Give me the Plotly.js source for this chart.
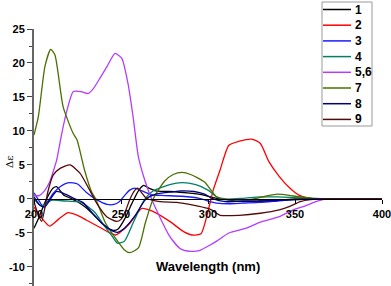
<!DOCTYPE html>
<html>
<head>
<meta charset="utf-8">
<script src="https://cdn.plot.ly/plotly-3.0.1.min.js"></script>
<style>html,body{margin:0;padding:0;background:#fff;}#chart{width:391px;height:286px;}</style>
</head>
<body>
<div id="chart"></div>
<script>
// Legend names and colours
const seriesNames = ["1", "2", "3", "4", "5,6", "7", "8", "9"];
const seriesColors = ["#000000", "#ff0000", "#1a1aff", "#008066", "#b43cff", "#4a7000", "#000080", "#550a0a"];

// Wavelength (nm) and Δε values
const wl1 = [200,203,207,211,213,217,221,225,230,235,240,245,248,252,256,260,263,266,270,278,288,297,303,310,320,330,340,350,360,370,400];
const de1 = [-4.3,-2.6,-0.1,1.6,1.8,0.6,0.1,-0.4,-1.3,-2.5,-3.8,-4.6,-4.5,-3.0,-0.8,1.2,2.0,1.6,1.2,1.1,0.9,0.6,0.2,-0.1,-0.4,-0.3,-0.2,0,0,0,0];

const wl2 = [200,205,209,214,219.5,225,230,238,243,247,250,255,262,268,278,286,291,296,300,303,307,312,318,325,330,335,341,347,352,358,365,400];
const de2 = [-1.2,-3.0,-4.0,-3.0,-2.0,-2.4,-3.1,-4.2,-4.9,-5.3,-4.8,-3.6,-1.4,-1.8,-3.3,-4.8,-5.3,-5.1,-1.8,1.3,4.3,7.9,8.5,8.8,8.2,5.5,3.3,1.6,0.6,0.1,0,0];

const wl3 = [200,203,205,208,211,215,220,225,230,236,242,246,249,252,255,258,262,268,275,285,295,300,305,312,320,330,340,350,360,370,400];
const de3 = [0.9,-0.3,-1.0,-0.3,0.8,1.8,2.4,2.2,1.0,-0.1,-0.8,-0.8,-0.4,0.5,1.3,1.6,1.2,0.6,0.5,0.4,0.1,-0.3,-0.6,-0.7,-0.6,-0.5,-0.3,-0.1,0,0,0];

const wl4 = [200,204,210,218,225,228,235,240,245,248,252,257,263,268,278,285,293,300,305,310,320,330,340,350,360,370,400];
const de4 = [0.0,-1.0,-0.2,-0.3,-0.4,-0.6,-2.0,-3.8,-5.5,-6.5,-6.2,-3.5,-0.3,1.1,2.1,2.4,2.1,1.3,0.3,0.0,0.1,0.3,0.3,0.2,0.1,0,0];

const wl5 = [200,203,206,209,211,213,216,219,222.6,227,231,234,238,242,246.6,250.4,254,257,260,264,267.6,272,278,284,290,295,301,305,312,322,330,341,350,356,362,366,370,400];
const de5 = [0.5,0.5,1.2,2.5,4.0,5.7,9.7,13.1,15.8,15.8,15.5,16.2,17.8,19.5,21.4,20.7,17.0,12.0,6.2,2.5,0,-2.5,-5.5,-7.3,-7.7,-7.6,-6.8,-6.2,-5.0,-4.3,-3.4,-2.6,-1.5,-1.0,-0.4,-0.1,0,0];

const wl7 = [200,202.5,206.3,209.6,212,216.8,222.4,224.7,229,233,235.5,241,247.5,252,255,260,264,268.5,275,280,285,290,298,305,312,324,333,340,350,360,370,400];
const de7 = [9.4,12.1,19.5,22.0,21.2,13.5,9.7,8.7,4.3,1.1,0,-3.5,-6.0,-7.5,-7.9,-7.2,-3.5,0,2.6,3.6,3.9,3.6,2.5,0.3,-0.1,-0.1,0.4,0.7,0.4,0.1,0,0];

const wl8 = [200,203,206,210,213,218,222,228,235,240,245,248,252,258,264,270,278,285,292,298,303,310,320,330,340,350,360,370,400];
const de8 = [0.3,-0.8,-1.2,0.2,1.1,0.7,0.2,-0.5,-2.5,-3.8,-4.7,-4.9,-4.3,-2.5,-0.1,0.7,1.0,1.2,1.1,0.7,0.0,-0.4,-0.3,-0.3,-0.2,-0.1,0,0,0];

const wl9 = [200,202,204.4,208,211,215,220.7,226.4,232,236,241.8,247.5,250,253,255,258,259.5,264.7,272.4,282,291.5,300,302,307,318,330,341,347,353,359,370,400];
const de9 = [-0.4,-2.0,-3.3,1.1,3.5,4.5,5.0,3.8,1.3,-0.6,-2.6,-3.3,-3.0,-1.5,-0.1,1.3,1.6,0.1,-0.4,-0.5,-0.9,-1.4,-1.6,-2.4,-2.4,-2.1,-1.6,-1.1,-0.4,-0.1,0,0];

const xTicks = [200, 250, 300, 350, 400];
const yTicks = [-10, -5, 0, 5, 10, 15, 20, 25];

const allX = [wl1, wl2, wl3, wl4, wl5, wl7, wl8, wl9];
const allY = [de1, de2, de3, de4, de5, de7, de8, de9];

const W = 391, H = 286;
const M = {l: 34, r: 9, t: 29, b: 0};
const yRange = [-12.8, 25];
const pw = W - M.l - M.r, ph = H - M.t - M.b;
const px = X => (X - M.l) / pw;
const py = Y => (H - M.b - Y) / ph;
const zeroPos = (0 - yRange[0]) / (yRange[1] - yRange[0]);

const traces = allX.map((xs, i) => ({
  x: xs, y: allY[i], type: 'scatter', mode: 'lines', name: seriesNames[i],
  line: {color: seriesColors[i], width: 1.3, shape: 'spline', smoothing: 0.6},
  showlegend: false, hoverinfo: 'skip'
}));

const fontBold = {family: 'Arial, Liberation Sans, sans-serif', size: 11, color: '#000', weight: 'bold'};

// Custom legend
const shapes = [{
  type: 'rect', xref: 'paper', yref: 'paper',
  x0: px(322), x1: px(372), y0: py(126), y1: py(2),
  line: {color: '#999', width: 1}, fillcolor: '#fff', layer: 'above'
}];
const annotations = [];
seriesNames.forEach((n, i) => {
  const yy = 9.5 + i * 15.7;
  shapes.push({type: 'line', xref: 'paper', yref: 'paper',
    x0: px(323), x1: px(351), y0: py(yy), y1: py(yy),
    line: {color: seriesColors[i], width: 1.5}, layer: 'above'});
  annotations.push({xref: 'paper', yref: 'paper', x: px(353), y: py(yy),
    xanchor: 'left', yanchor: 'middle', text: n, showarrow: false,
    font: {family: 'Arial, Liberation Sans, sans-serif', size: 12, color: '#000', weight: 'bold'}});
});
annotations.push({xref: 'paper', yref: 'paper', x: px(208), y: py(266),
  xanchor: 'center', yanchor: 'middle', text: 'Wavelength (nm)', showarrow: false,
  font: {family: 'Arial, Liberation Sans, sans-serif', size: 13, color: '#000', weight: 'bold'}});
annotations.push({xref: 'paper', yref: 'paper', x: px(10), y: py(162),
  xanchor: 'center', yanchor: 'middle', text: 'Δε', textangle: -90, showarrow: false,
  font: {family: 'DejaVu Serif, Liberation Serif, serif', size: 10, color: '#000'}});

const layout = {
  width: W, height: H,
  margin: M,
  paper_bgcolor: '#fff', plot_bgcolor: '#fff',
  showlegend: false,
  xaxis: {
    range: [200, 400], tickvals: xTicks, ticktext: xTicks.map(String),
    showgrid: false, zeroline: false, showline: true, linecolor: '#000', linewidth: 1.5,
    anchor: 'free', position: zeroPos,
    ticks: 'outside', ticklen: 4, tickwidth: 1, tickcolor: '#000',
    tickfont: fontBold, ticklabeloverflow: 'allow'
  },
  yaxis: {
    range: yRange, tickvals: yTicks, ticktext: yTicks.map(String),
    showgrid: false, zeroline: false, showline: true, linecolor: '#666', linewidth: 2,
    ticks: 'outside', ticklen: 5, tickwidth: 1, tickcolor: '#444',
    tickfont: fontBold, ticklabeloverflow: 'allow',
    minor: {dtick: 2.5, ticks: 'outside', ticklen: 3, tickcolor: '#444', showgrid: false}
  },
  shapes: shapes,
  annotations: annotations
};

Plotly.newPlot('chart', traces, layout, {staticPlot: true, displayModeBar: false});
</script>
</body>
</html>
